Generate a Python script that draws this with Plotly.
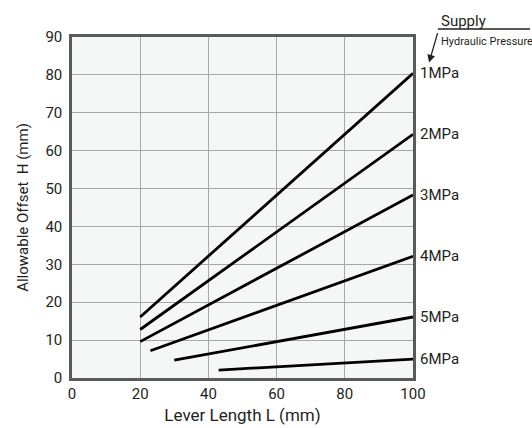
import plotly.graph_objects as go

pressures = ["1MPa", "2MPa", "3MPa", "4MPa", "5MPa", "6MPa"]
lever_start = [20, 20, 20, 23, 30, 43]
offset_start = [16.1, 12.8, 9.6, 7.2, 4.7, 2.1]
lever_end = [100, 100, 100, 100, 100, 100]
offset_end = [80.4, 64.3, 48.3, 32.1, 16.1, 5.0]

x_ticks = [0, 20, 40, 60, 80, 100]
y_ticks = [0, 10, 20, 30, 40, 50, 60, 70, 80, 90]

FONT = "Roboto, Open Sans, sans-serif"
TXT = "#231f20"

fig = go.Figure()
for name, x0, y0, x1, y1 in zip(pressures, lever_start, offset_start, lever_end, offset_end):
    fig.add_trace(go.Scatter(x=[x0, x1], y=[y0, y1], mode="lines",
                             line=dict(color="#000000", width=2.8),
                             name=name, showlegend=False, cliponaxis=False,
                             hoverinfo="skip"))
    fig.add_annotation(x=x1, y=y1, xref="x", yref="y", text=name, showarrow=False,
                       xanchor="left", yanchor="middle", xshift=5,
                       font=dict(family=FONT, size=15, color=TXT))

# Supply / Hydraulic Pressure header
fig.add_annotation(x=1.047, y=0.925, xref="paper", yref="paper", text="",
                   showarrow=True, arrowhead=2, arrowsize=1.2, arrowwidth=1.3,
                   arrowcolor=TXT, ax=9, ay=-31)
fig.add_shape(type="line", xref="paper", yref="paper", x0=1.073, x1=1.343,
              y0=1.0235, y1=1.0235, line=dict(color=TXT, width=1.3))
fig.add_annotation(x=1.077, y=1.014, xref="paper", yref="paper", text="Supply",
                   showarrow=False, xanchor="left", yanchor="bottom",
                   font=dict(family=FONT, size=15, color=TXT))
fig.add_annotation(x=1.076, y=0.986, xref="paper", yref="paper", text="Hydraulic Pressure",
                   showarrow=False, xanchor="left", yanchor="middle",
                   font=dict(family=FONT, size=11, color=TXT))

fig.update_layout(
    width=532, height=428,
    margin=dict(l=72, r=119, t=37, b=50),
    paper_bgcolor="white", plot_bgcolor="#f5f6f6",
    font=dict(family=FONT, size=15, color=TXT),
    showlegend=False,
)
fig.update_xaxes(range=[0, 100], tickvals=x_ticks, showgrid=True, gridcolor="#a8a8a8",
                 gridwidth=1, showline=True, linecolor="#5a5a5a", linewidth=2.5, mirror=True,
                 zeroline=False, ticks="", automargin=False,
                 title=dict(text="Lever Length L (mm)", standoff=8, font=dict(size=17)),
                 tickfont=dict(size=15))
fig.update_yaxes(range=[0, 90], tickvals=y_ticks, showgrid=True, gridcolor="#a8a8a8",
                 gridwidth=1, showline=True, linecolor="#5a5a5a", linewidth=2.5, mirror=True,
                 zeroline=False, ticks="", ticklabelstandoff=4, automargin=False,
                 title=dict(text="Allowable Offset  H (mm)", standoff=14, font=dict(size=15)),
                 tickfont=dict(size=15))

fig.write_html("out.html", config={"displayModeBar": False},
               post_script="document.body.style.margin='0';")
